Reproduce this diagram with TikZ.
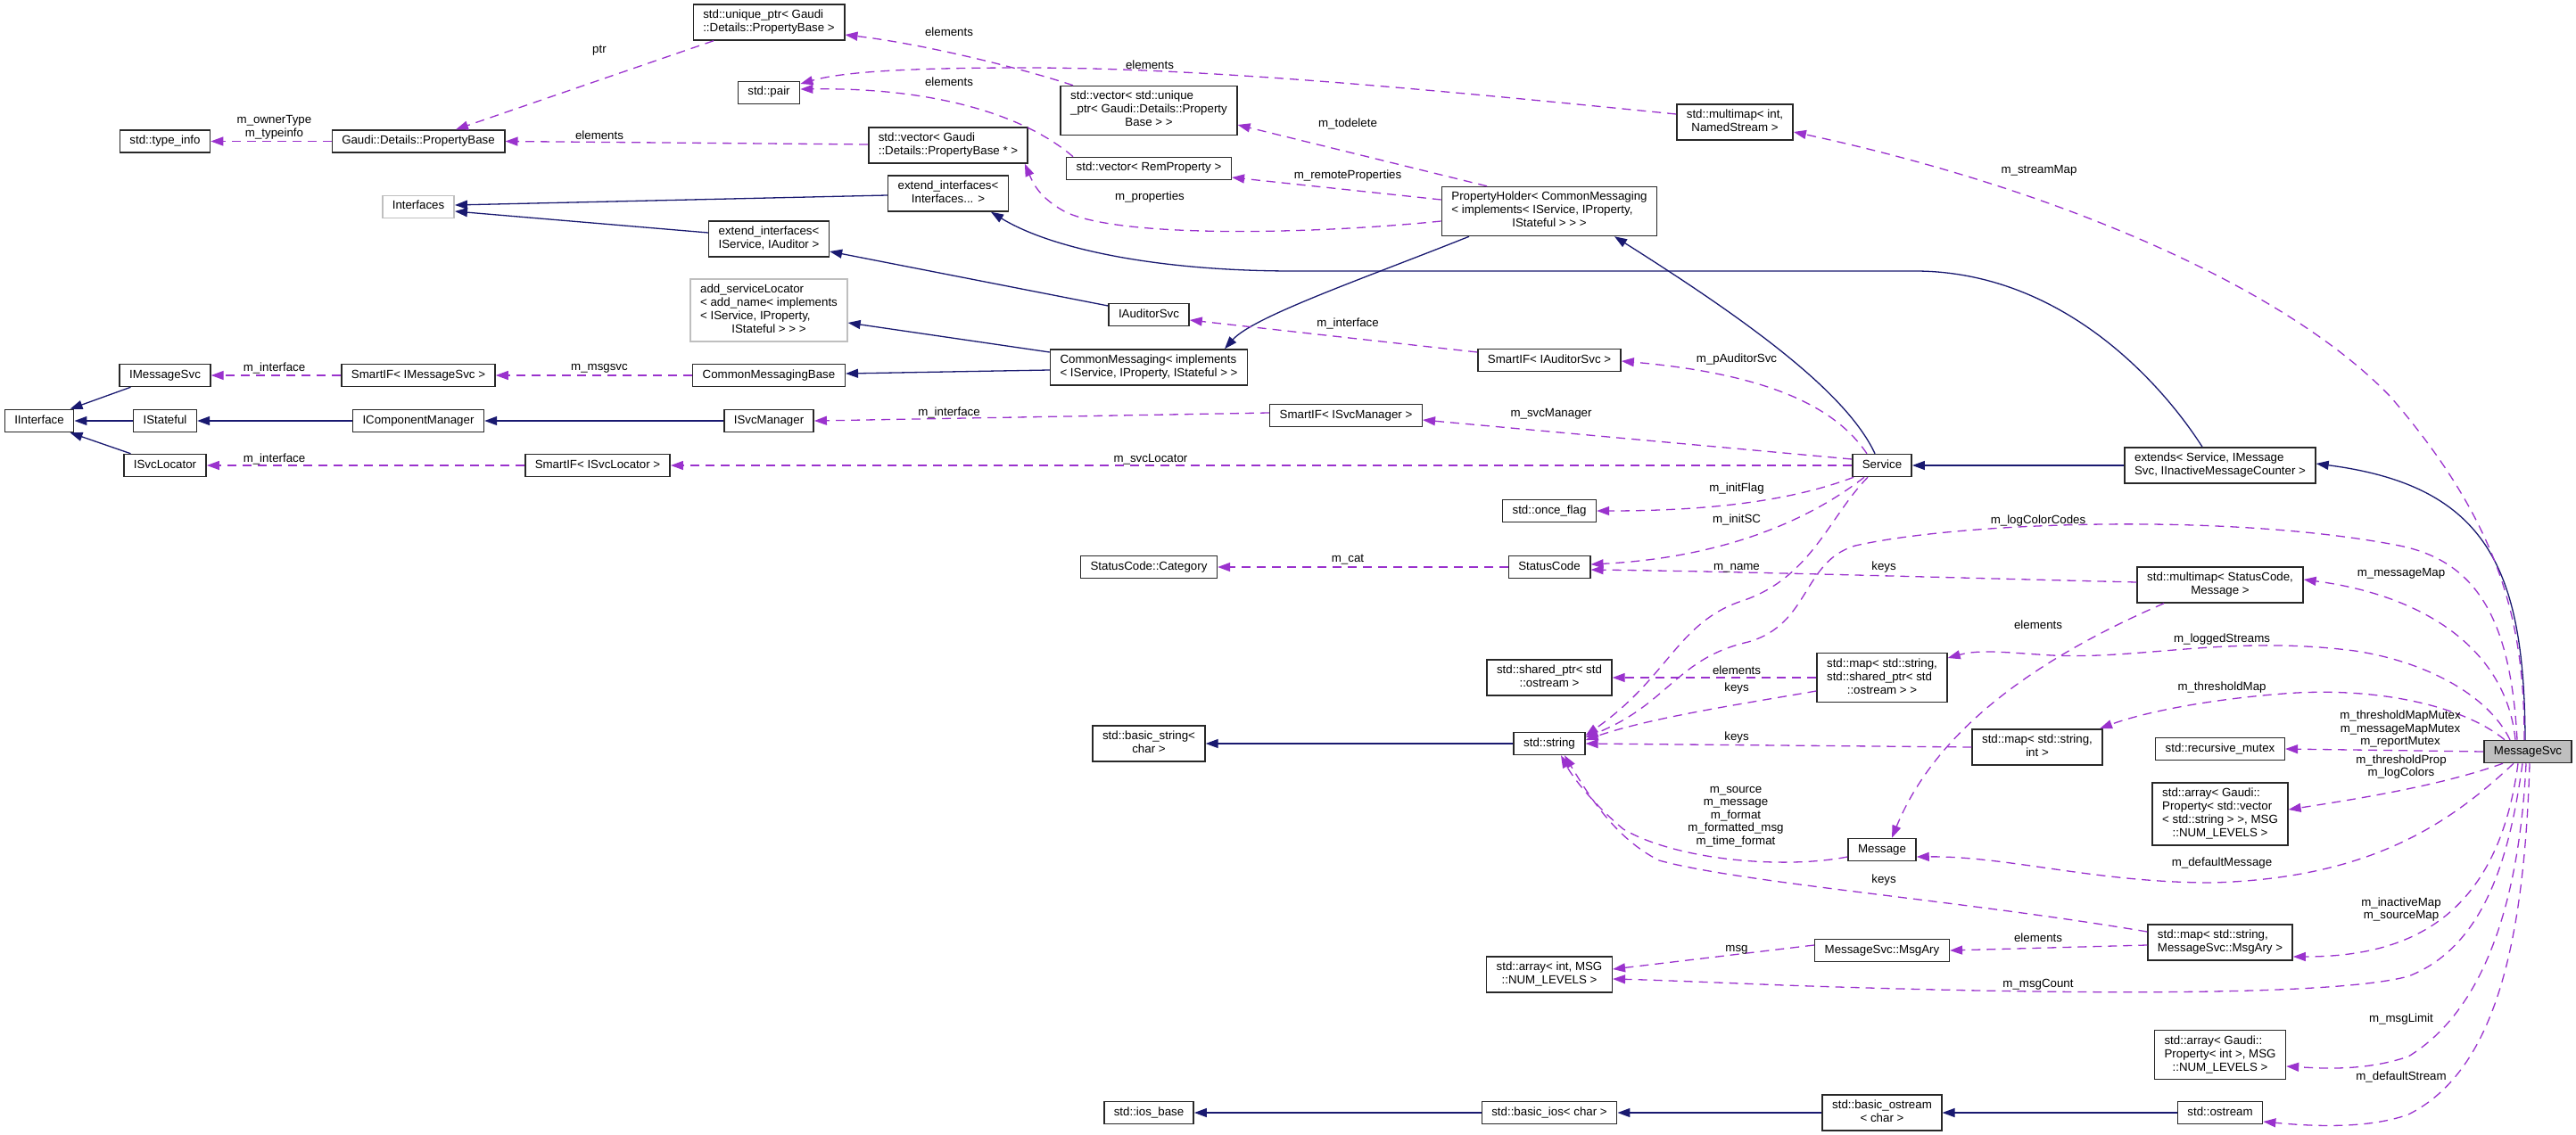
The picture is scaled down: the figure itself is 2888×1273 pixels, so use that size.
\documentclass[tikz,border=0pt]{standalone}
\usepackage{fontspec}
\setmainfont{Liberation Sans}
\definecolor{inher}{RGB}{25,25,112}
\definecolor{usage}{RGB}{154,50,205}
\definecolor{boxline}{RGB}{40,40,40}
\definecolor{boxgray}{RGB}{191,191,191}
\usetikzlibrary{arrows.meta}
\newcommand{\lastrow}[1]{\multicolumn{1}{@{}c@{}}{#1}}
\newcommand{\rows}[1]{\begin{tabular}{@{}l@{}}#1\end{tabular}}
\tikzset{
  % node
	cstbox/.style   ={draw=boxline,fill=white,line width=1.5pt,inner xsep=11pt,inner ysep=5pt,minimum height=25pt,font=\fontsize{13.3}{15}\selectfont,execute at begin node=\strut},
	cstboxg/.style  ={cstbox,draw=boxgray},
	cstboxs/.style  ={cstbox,fill=boxgray},
	cstlabel/.style ={inner sep=0pt,align=center,font=\fontsize{13.3}{14.5}\selectfont},
  % arrow
	cstinh/.style   ={color=inher,line width=1.3pt,-{Triangle[length=14pt,width=10pt]}},
	cstuse/.style   ={color=usage,line width=1.3pt,dash pattern=on 10pt off 7pt,-{Triangle[length=14pt,width=10pt]}}
}
\begin{document}
\begin{tikzpicture}[x=1pt,y=-1pt]
	\useasboundingbox (0,0) rectangle (2888,1273);
	% classes
	\node[cstbox] (IInterface) at (44,472) {IInterface};
	\node[cstbox] (TypeInfo) at (185,158.5) {std::type\_info};
	\node[cstbox] (IMsgSvc) at (185,421) {IMessageSvc};
	\node[cstbox] (IStateful) at (185,472) {IStateful};
	\node[cstbox] (ISvcLoc) at (185,522) {ISvcLocator};
	\node[cstbox] (PropBase) at (469,158.5) {Gaudi::Details::PropertyBase};
	\node[cstboxg] (Interfaces) at (469,232) {Interfaces};
	\node[cstbox] (SmartMsg) at (469,421) {SmartIF< IMessageSvc >};
	\node[cstbox] (ICompMgr) at (469,472) {IComponentManager};
	\node[cstbox] (SmartLoc) at (670,522) {SmartIF< ISvcLocator >};
	\node[cstbox] (UniquePtr) at (862,25) {\rows{std::unique\_ptr< Gaudi\\\lastrow{::Details::PropertyBase >}}};
	\node[cstbox] (Pair) at (862,104) {std::pair};
	\node[cstbox] (ExtIfAud) at (862,268) {\rows{extend\_interfaces<\\\lastrow{IService, IAuditor >}}};
	\node[cstboxg] (AddSvcLoc) at (862,348) {\rows{add\_serviceLocator\\< add\_name< implements\\< IService, IProperty,\\\lastrow{IStateful > > >}}};
	\node[cstbox] (CMBase) at (862,421) {CommonMessagingBase};
	\node[cstbox] (ISvcMgr) at (862,472) {ISvcManager};
	\node[cstbox] (VecPB) at (1063,163) {\rows{std::vector< Gaudi\\\lastrow{::Details::PropertyBase * >}}};
	\node[cstbox] (ExtIf) at (1063,217) {\rows{extend\_interfaces<\\\lastrow{Interfaces... >}}};
	\node[cstbox] (VecUPtr) at (1288,124) {\rows{std::vector< std::unique\\\_ptr< Gaudi::Details::Property\\\lastrow{Base > >}}};
	\node[cstbox] (VecRem) at (1288,189) {std::vector< RemProperty >};
	\node[cstbox] (IAudSvc) at (1288,353) {IAuditorSvc};
	\node[cstbox] (CMImpl) at (1288,412) {\rows{CommonMessaging< implements\\\lastrow{< IService, IProperty, IStateful > >}}};
	\node[cstbox] (Category) at (1288,636) {StatusCode::Category};
	\node[cstbox] (BasicStr) at (1288,834) {\rows{std::basic\_string<\\\lastrow{char >}}};
	\node[cstbox] (IosBase) at (1288,1248) {std::ios\_base};
	\node[cstbox] (SmartMgr) at (1509,466) {SmartIF< ISvcManager >};
	\node[cstbox] (PropHolder) at (1737,237) {\rows{PropertyHolder< CommonMessaging\\< implements< IService, IProperty,\\\lastrow{IStateful > > >}}};
	\node[cstbox] (SmartAud) at (1737,404) {SmartIF< IAuditorSvc >};
	\node[cstbox] (OnceFlag) at (1737,573) {std::once\_flag};
	\node[cstbox] (StatusCode) at (1737,636) {StatusCode};
	\node[cstbox] (SharedPtr) at (1737,760) {\rows{std::shared\_ptr< std\\\lastrow{::ostream >}}};
	\node[cstbox] (String) at (1737,834) {std::string};
	\node[cstbox] (ArrayInt) at (1737,1093) {\rows{std::array< int, MSG\\\lastrow{::NUM\_LEVELS >}}};
	\node[cstbox] (BasicIos) at (1737,1248) {std::basic\_ios< char >};
	\node[cstbox] (MMStream) at (1945,137) {\rows{std::multimap< int,\\\lastrow{NamedStream >}}};
	\node[cstbox] (Service) at (2110,522) {Service};
	\node[cstbox] (MapShared) at (2110,760) {\rows{std::map< std::string,\\std::shared\_ptr< std\\\lastrow{::ostream > >}}};
	\node[cstbox] (Message) at (2110,953) {Message};
	\node[cstbox] (MsgAry) at (2110,1066) {MessageSvc::MsgAry};
	\node[cstbox] (BasicOstream) at (2110,1248) {\rows{std::basic\_ostream\\\lastrow{< char >}}};
	\node[cstbox] (MapInt) at (2284,838) {\rows{std::map< std::string,\\\lastrow{int >}}};
	\node[cstbox] (Extends) at (2489,522) {\rows{extends< Service, IMessage\\\lastrow{Svc, IInactiveMessageCounter >}}};
	\node[cstbox] (MMStatus) at (2489,656) {\rows{std::multimap< StatusCode,\\\lastrow{Message >}}};
	\node[cstbox] (RecMutex) at (2489,840) {std::recursive\_mutex};
	\node[cstbox] (ArrayVec) at (2489,913) {\rows{std::array< Gaudi::\\Property< std::vector\\< std::string > >, MSG\\\lastrow{::NUM\_LEVELS >}}};
	\node[cstbox] (MapMsgAry) at (2489,1057) {\rows{std::map< std::string,\\\lastrow{MessageSvc::MsgAry >}}};
	\node[cstbox] (ArrayProp) at (2489,1183) {\rows{std::array< Gaudi::\\Property< int >, MSG\\\lastrow{::NUM\_LEVELS >}}};
	\node[cstbox] (Ostream) at (2489,1248) {std::ostream};
	\node[cstboxs] (MsgSvc) at (2834,843) {MessageSvc};
	% inheritance
	\draw[cstinh] (IMsgSvc.-161) -- (IInterface.21);
	\draw[cstinh] (IStateful.west) -- (IInterface.east);
	\draw[cstinh] (ISvcLoc.161) -- (IInterface.-21);
	\draw[cstinh] (ICompMgr.west) -- (IStateful.east);
	\draw[cstinh] (ISvcMgr.west) -- (ICompMgr.east);
	\draw[cstinh] ([yshift=-2pt]ExtIf.west) -- ([yshift=2pt]Interfaces.east);
	\draw[cstinh] ([yshift=7pt]ExtIfAud.west) -- ([yshift=-5pt]Interfaces.east);
	\draw[cstinh] ([yshift=10pt]IAudSvc.west) -- ([yshift=-14pt]ExtIfAud.east);
	\draw[cstinh] ([yshift=17pt]CMImpl.west) -- ([yshift=-14pt]AddSvcLoc.east);
	\draw[cstinh] ([yshift=-3pt]CMImpl.west) -- ([yshift=2pt]CMBase.east);
	\draw[cstinh] ([xshift=-90pt]PropHolder.south) .. controls (1530,312) and (1405,355) .. ([xshift=85pt]CMImpl.north);
	\draw[cstinh] ([xshift=-8pt]Service.north) .. controls (2070,440) and (1960,360) .. ([xshift=73pt]PropHolder.south);
	\draw[cstinh] (Extends.west) -- (Service.east);
	\draw[cstinh] ([xshift=-20pt]Extends.north) .. controls (2430,440) and (2320,306) .. (2150,304) -- (1450,304) .. controls (1300,304) and (1180,280) .. ([xshift=48pt]ExtIf.south);
	\draw[cstinh] ([xshift=-3pt]MsgSvc.north) .. controls (2830,640) and (2790,545) .. ([yshift=2pt]Extends.east);
	\draw[cstinh] (String.west) -- (BasicStr.east);
	\draw[cstinh] (BasicIos.west) -- (IosBase.east);
	\draw[cstinh] (BasicOstream.west) -- (BasicIos.east);
	\draw[cstinh] (Ostream.west) -- (BasicOstream.east);
	% members
	\draw[cstuse] (PropBase.west) -- (TypeInfo.east);
	\draw[cstuse] ([xshift=-62pt]UniquePtr.south) -- ([xshift=42pt]PropBase.north);
	\draw[cstuse] ([yshift=1pt]VecPB.west) -- (PropBase.east);
	\draw[cstuse] ([xshift=-85pt]VecUPtr.north) .. controls (1150,78) and (1040,50) .. ([yshift=-14pt]UniquePtr.east);
	\draw[cstuse] ([yshift=9pt]MMStream.west) .. controls (1600,100) and (1350,76) .. (1150,76) .. controls (1000,76) and (940,82) .. ([yshift=10pt]Pair.east);
	\draw[cstuse] ([xshift=-85pt]VecRem.north) .. controls (1150,130) and (1050,98) .. ([yshift=4pt]Pair.east);
	\draw[cstuse] ([xshift=-70pt]PropHolder.north) -- ([yshift=-16pt]VecUPtr.east);
	\draw[cstuse] ([yshift=13pt]PropHolder.west) -- ([yshift=-10pt]VecRem.east);
	\draw[cstuse] ([yshift=-11pt]PropHolder.west) .. controls (1480,262) and (1260,268) .. (1195,238) .. controls (1165,222) and (1158,205) .. ([xshift=-4pt]VecPB.south east);
	\draw[cstuse] ([yshift=9pt]SmartAud.west) -- ([yshift=-6pt]IAudSvc.east);
	\draw[cstuse] ([xshift=-17pt]Service.north) .. controls (2060,460) and (1990,420) .. ([yshift=-1pt]SmartAud.east);
	\draw[cstuse] (CMBase.west) -- (SmartMsg.east);
	\draw[cstuse] (SmartMsg.west) -- (IMsgSvc.east);
	\draw[cstuse] ([yshift=3pt]SmartMgr.west) -- (ISvcMgr.east);
	\draw[cstuse] ([yshift=7pt]Service.west) -- ([yshift=-5pt]SmartMgr.east);
	\draw[cstuse] (Service.west) -- (SmartLoc.east);
	\draw[cstuse] (SmartLoc.west) -- (ISvcLoc.east);
	\draw[cstuse] ([xshift=2pt]Service.south west) .. controls (2000,565) and (1900,573) .. (OnceFlag.east);
	\draw[cstuse] ([xshift=-20pt]Service.south) .. controls (2020,590) and (1920,626) .. ([yshift=3pt]StatusCode.east);
	\draw[cstuse] (StatusCode.west) -- (Category.east);
	\draw[cstuse] ([yshift=3pt]MMStatus.west) .. controls (2150,647) and (1950,641) .. ([yshift=-3pt]StatusCode.east);
	\draw[cstuse] ([xshift=-16pt]Service.south) .. controls (2050,580) and (2030,650) .. (1950,675) .. controls (1880,700) and (1870,760) .. ([yshift=9pt]String.east);
	\draw[cstuse] ([xshift=-12pt]MsgSvc.north) .. controls (2815,700) and (2780,630) .. (2690,612) .. controls (2500,575) and (2200,585) .. (2080,612) .. controls (2020,630) and (2030,700) .. (1960,720) .. controls (1880,738) and (1870,790) .. ([yshift=7pt]String.east);
	\draw[cstuse] (MapShared.west) -- (SharedPtr.east);
	\draw[cstuse] ([yshift=-15pt]MapShared.west) .. controls (1950,790) and (1850,805) .. ([yshift=4pt]String.east);
	\draw[cstuse] (MapInt.west) -- (String.east);
	\draw[cstuse] ([yshift=-8pt]Message.west) .. controls (2000,975) and (1880,965) .. (1820,930) .. controls (1790,905) and (1765,875) .. ([xshift=13pt]String.south);
	\draw[cstuse] ([yshift=12pt]MapMsgAry.west) .. controls (2200,1010) and (1950,990) .. (1860,965) .. controls (1810,940) and (1780,890) .. ([xshift=17pt]String.south);
	\draw[cstuse] ([yshift=-3pt]MapMsgAry.west) -- (MsgAry.east);
	\draw[cstuse] ([yshift=6pt]MsgAry.west) -- ([yshift=6pt]ArrayInt.east);
	\draw[cstuse] ([xshift=-63pt]MMStatus.south) .. controls (2280,740) and (2170,820) .. ([xshift=11pt]Message.north);
	\draw[cstuse] ([xshift=-4pt]MsgSvc.north) .. controls (2830,700) and (2805,590) .. (2680,445) .. controls (2560,320) and (2300,210) .. ([yshift=-11pt]MMStream.east);
	\draw[cstuse] ([xshift=-14pt]MsgSvc.north) .. controls (2810,730) and (2720,668) .. ([yshift=6pt]MMStatus.east);
	\draw[cstuse] ([xshift=-20pt]MsgSvc.north) .. controls (2790,780) and (2720,742) .. (2640,730) .. controls (2500,712) and (2400,740) .. (2300,735) .. controls (2250,732) and (2220,728) .. ([yshift=22pt]MapShared.east);
	\draw[cstuse] ([xshift=-26pt]MsgSvc.north) .. controls (2760,790) and (2660,770) .. (2560,778) .. controls (2470,785) and (2400,800) .. ([xshift=70pt]MapInt.north);
	\draw[cstuse] (MsgSvc.west) -- (RecMutex.east);
	\draw[cstuse] ([xshift=-28pt]MsgSvc.south) .. controls (2740,880) and (2650,895) .. ([yshift=5pt]ArrayVec.east);
	\draw[cstuse] ([xshift=-16pt]MsgSvc.south) .. controls (2740,930) and (2650,985) .. (2480,990) .. controls (2350,990) and (2250,960) .. ([yshift=-8pt]Message.east);
	\draw[cstuse] ([xshift=-11pt]MsgSvc.south) .. controls (2800,1030) and (2700,1073) .. ([yshift=-16pt]MapMsgAry.east);
	\draw[cstuse] ([xshift=-6pt]MsgSvc.south) .. controls (2815,950) and (2790,1060) .. (2700,1095) .. controls (2600,1122) and (2200,1112) .. (2000,1105) .. controls (1900,1101) and (1850,1099) .. ([yshift=-5pt]ArrayInt.east);
	\draw[cstuse] ([xshift=-2pt]MsgSvc.south) .. controls (2825,1000) and (2790,1130) .. (2700,1185) .. controls (2650,1202) and (2600,1198) .. ([yshift=-13pt]ArrayProp.east);
	\draw[cstuse] ([xshift=2pt]MsgSvc.south) .. controls (2830,1050) and (2800,1200) .. (2700,1250) .. controls (2650,1268) and (2580,1262) .. ([yshift=-10pt]Ostream.east);
	% labels
	\node[cstlabel] (lOwner) at (307.5,143) {m\_ownerType\\m\_typeinfo};
	\node[cstlabel] (lPtr) at (672,57) {ptr};
	\node[cstlabel] (lElemA) at (672,152) {elements};
	\node[cstlabel] (lElemB) at (1064,36) {elements};
	\node[cstlabel] (lElemC) at (1289,73) {elements};
	\node[cstlabel] (lElemD) at (1064,92) {elements};
	\node[cstlabel] (lTodelete) at (1511,139) {m\_todelete};
	\node[cstlabel] (lRemote) at (1511,197) {m\_remoteProperties};
	\node[cstlabel] (lProps) at (1289,221) {m\_properties};
	\node[cstlabel] (lStreamMap) at (2286,191) {m\_streamMap};
	\node[cstlabel] (lIfAud) at (1511,363) {m\_interface};
	\node[cstlabel] (lPAud) at (1947,403) {m\_pAuditorSvc};
	\node[cstlabel] (lIfMsg) at (307.5,413) {m\_interface};
	\node[cstlabel] (lMsgsvc) at (672,413) {m\_msgsvc};
	\node[cstlabel] (lIfMgr) at (1064,463) {m\_interface};
	\node[cstlabel] (lSvcMgr) at (1739,464) {m\_svcManager};
	\node[cstlabel] (lIfLoc) at (307.5,515) {m\_interface};
	\node[cstlabel] (lSvcLoc) at (1290,515) {m\_svcLocator};
	\node[cstlabel] (lInitFlag) at (1947,548) {m\_initFlag};
	\node[cstlabel] (lInitSC) at (1947,583) {m\_initSC};
	\node[cstlabel] (lLogColor) at (2285,584) {m\_logColorCodes};
	\node[cstlabel] (lCat) at (1511,628) {m\_cat};
	\node[cstlabel] (lName) at (1947,637) {m\_name};
	\node[cstlabel] (lKeysA) at (2112,636) {keys};
	\node[cstlabel] (lMsgMap) at (2692,643) {m\_messageMap};
	\node[cstlabel] (lElemE) at (2285,701) {elements};
	\node[cstlabel] (lLogged) at (2491,717) {m\_loggedStreams};
	\node[cstlabel] (lElemF) at (1947,752) {elements};
	\node[cstlabel] (lKeysB) at (1947,772) {keys};
	\node[cstlabel] (lThrMap) at (2491,771) {m\_thresholdMap};
	\node[cstlabel] (lMutex) at (2691,818) {m\_thresholdMapMutex\\m\_messageMapMutex\\m\_reportMutex};
	\node[cstlabel] (lKeysC) at (1947,827) {keys};
	\node[cstlabel] (lThrProp) at (2692,860) {m\_thresholdProp\\m\_logColors};
	\node[cstlabel] (lSource) at (1946,916) {m\_source\\m\_message\\m\_format\\m\_formatted\_msg\\m\_time\_format};
	\node[cstlabel] (lDefMsg) at (2491,968) {m\_defaultMessage};
	\node[cstlabel] (lKeysD) at (2112,987) {keys};
	\node[cstlabel] (lInactive) at (2692,1020) {m\_inactiveMap\\m\_sourceMap};
	\node[cstlabel] (lElemG) at (2285,1052) {elements};
	\node[cstlabel] (lMsg) at (1947,1065) {msg};
	\node[cstlabel] (lMsgCount) at (2285,1104) {m\_msgCount};
	\node[cstlabel] (lMsgLimit) at (2692,1143) {m\_msgLimit};
	\node[cstlabel] (lDefStream) at (2692,1208) {m\_defaultStream};
\end{tikzpicture}
\end{document}
